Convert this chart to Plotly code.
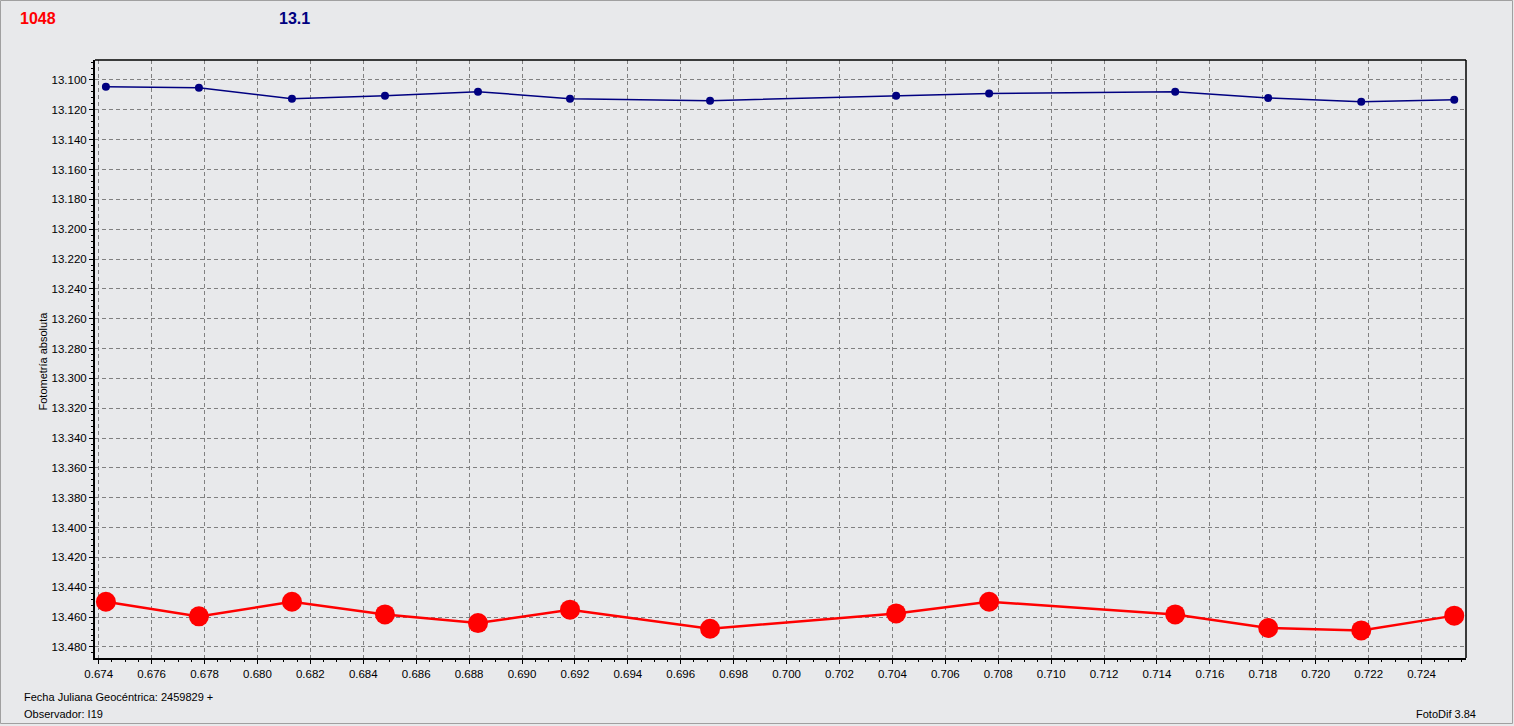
import plotly.graph_objects as go

jd = [0.674272, 0.677788, 0.681304, 0.684820, 0.688336, 0.691814, 0.697107,
      0.704140, 0.707655, 0.714688, 0.718204, 0.721720, 0.725236]
target = [13.4497, 13.4595, 13.4497, 13.4582, 13.4640, 13.4550, 13.4678,
          13.4575, 13.4497, 13.4582, 13.4673, 13.4689, 13.4590]
comp = [13.1045, 13.1052, 13.1125, 13.1105, 13.1078, 13.1125, 13.1139,
        13.1105, 13.1090, 13.1078, 13.1121, 13.1145, 13.1132]

BG = "#e8e9eb"
FONT = "Liberation Sans, Arial, sans-serif"

fig = go.Figure()
fig.add_trace(go.Scatter(x=jd, y=comp, mode="lines+markers",
                         line=dict(color="#000080", width=1.5),
                         marker=dict(color="#000080", size=8), showlegend=False))
fig.add_trace(go.Scatter(x=jd, y=target, mode="lines+markers",
                         line=dict(color="#ff0000", width=2.5),
                         marker=dict(color="#ff0000", size=20), showlegend=False))

W, H = 1514, 726
L, R, T, B = 95, 48, 60, 68
pw, ph = W - L - R, H - T - B

def px(x):
    return (x - L) / pw

def py(y):
    return (H - B - y) / ph

fig.update_layout(
    width=W, height=H,
    margin=dict(l=L, r=R, t=T, b=B, pad=0),
    paper_bgcolor=BG, plot_bgcolor=BG,
    font=dict(family=FONT, size=11, color="black"),
    xaxis=dict(range=[0.67386, 0.72568], tick0=0.674, dtick=0.002, tickformat=".3f",
               showgrid=True, gridcolor="#808080", griddash="4px,3px", gridwidth=1,
               showline=True, linecolor="black", linewidth=2,
               ticks="outside", ticklen=4, tickcolor="black",
               minor=dict(ticks="outside", dtick=0.0005, tick0=0.674, ticklen=2,
                          tickcolor="black", showgrid=False),
               zeroline=False, tickfont=dict(size=11.5)),
    yaxis=dict(range=[13.4874, 13.0866], tick0=13.1, dtick=0.02, tickformat=".3f",
               showgrid=True, gridcolor="#808080", griddash="4px,3px", gridwidth=1,
               showline=True, linecolor="black", linewidth=2,
               ticks="outside", ticklen=4, tickcolor="black",
               minor=dict(ticks="outside", dtick=0.004, tick0=13.1, ticklen=2,
                          tickcolor="black", showgrid=False),
               zeroline=False, tickfont=dict(size=11.5)),
    shapes=[
        dict(type="line", xref="paper", yref="paper", x0=0, x1=1, y0=1, y1=1,
             line=dict(color="black", width=1.5)),
        dict(type="line", xref="paper", yref="paper", x0=1, x1=1, y0=0, y1=1,
             line=dict(color="black", width=1.5)),
        dict(type="rect", xref="paper", yref="paper",
             x0=px(0.5), x1=px(1512.5), y0=py(723.5), y1=py(0.5),
             line=dict(color="#a0a0a0", width=1)),
    ],
    annotations=[
        dict(text="<b>1048</b>", xref="paper", yref="paper", x=px(18), y=py(19),
             xanchor="left", yanchor="middle", showarrow=False,
             font=dict(size=16, color="#ff0000")),
        dict(text="<b>13.1</b>", xref="paper", yref="paper", x=px(294), y=py(19),
             xanchor="center", yanchor="middle", showarrow=False,
             font=dict(size=16, color="#000080")),
        dict(text="Fotometría absoluta", xref="paper", yref="paper", x=px(42.5), y=py(361),
             xanchor="center", yanchor="middle", showarrow=False, textangle=-90,
             font=dict(size=11)),
        dict(text="Fecha Juliana Geocéntrica: 2459829 +", xref="paper", yref="paper",
             x=px(22), y=py(697), xanchor="left", yanchor="middle", showarrow=False,
             font=dict(size=11)),
        dict(text="Observador: I19", xref="paper", yref="paper",
             x=px(22), y=py(714), xanchor="left", yanchor="middle", showarrow=False,
             font=dict(size=11)),
        dict(text="FotoDif 3.84", xref="paper", yref="paper",
             x=px(1478), y=py(714), xanchor="right", yanchor="middle", showarrow=False,
             font=dict(size=11)),
    ],
)

fig.write_html("out.html", config={"displayModeBar": False},
               post_script="document.body.style.margin='0';document.body.style.padding='0';document.body.style.overflow='hidden';")
